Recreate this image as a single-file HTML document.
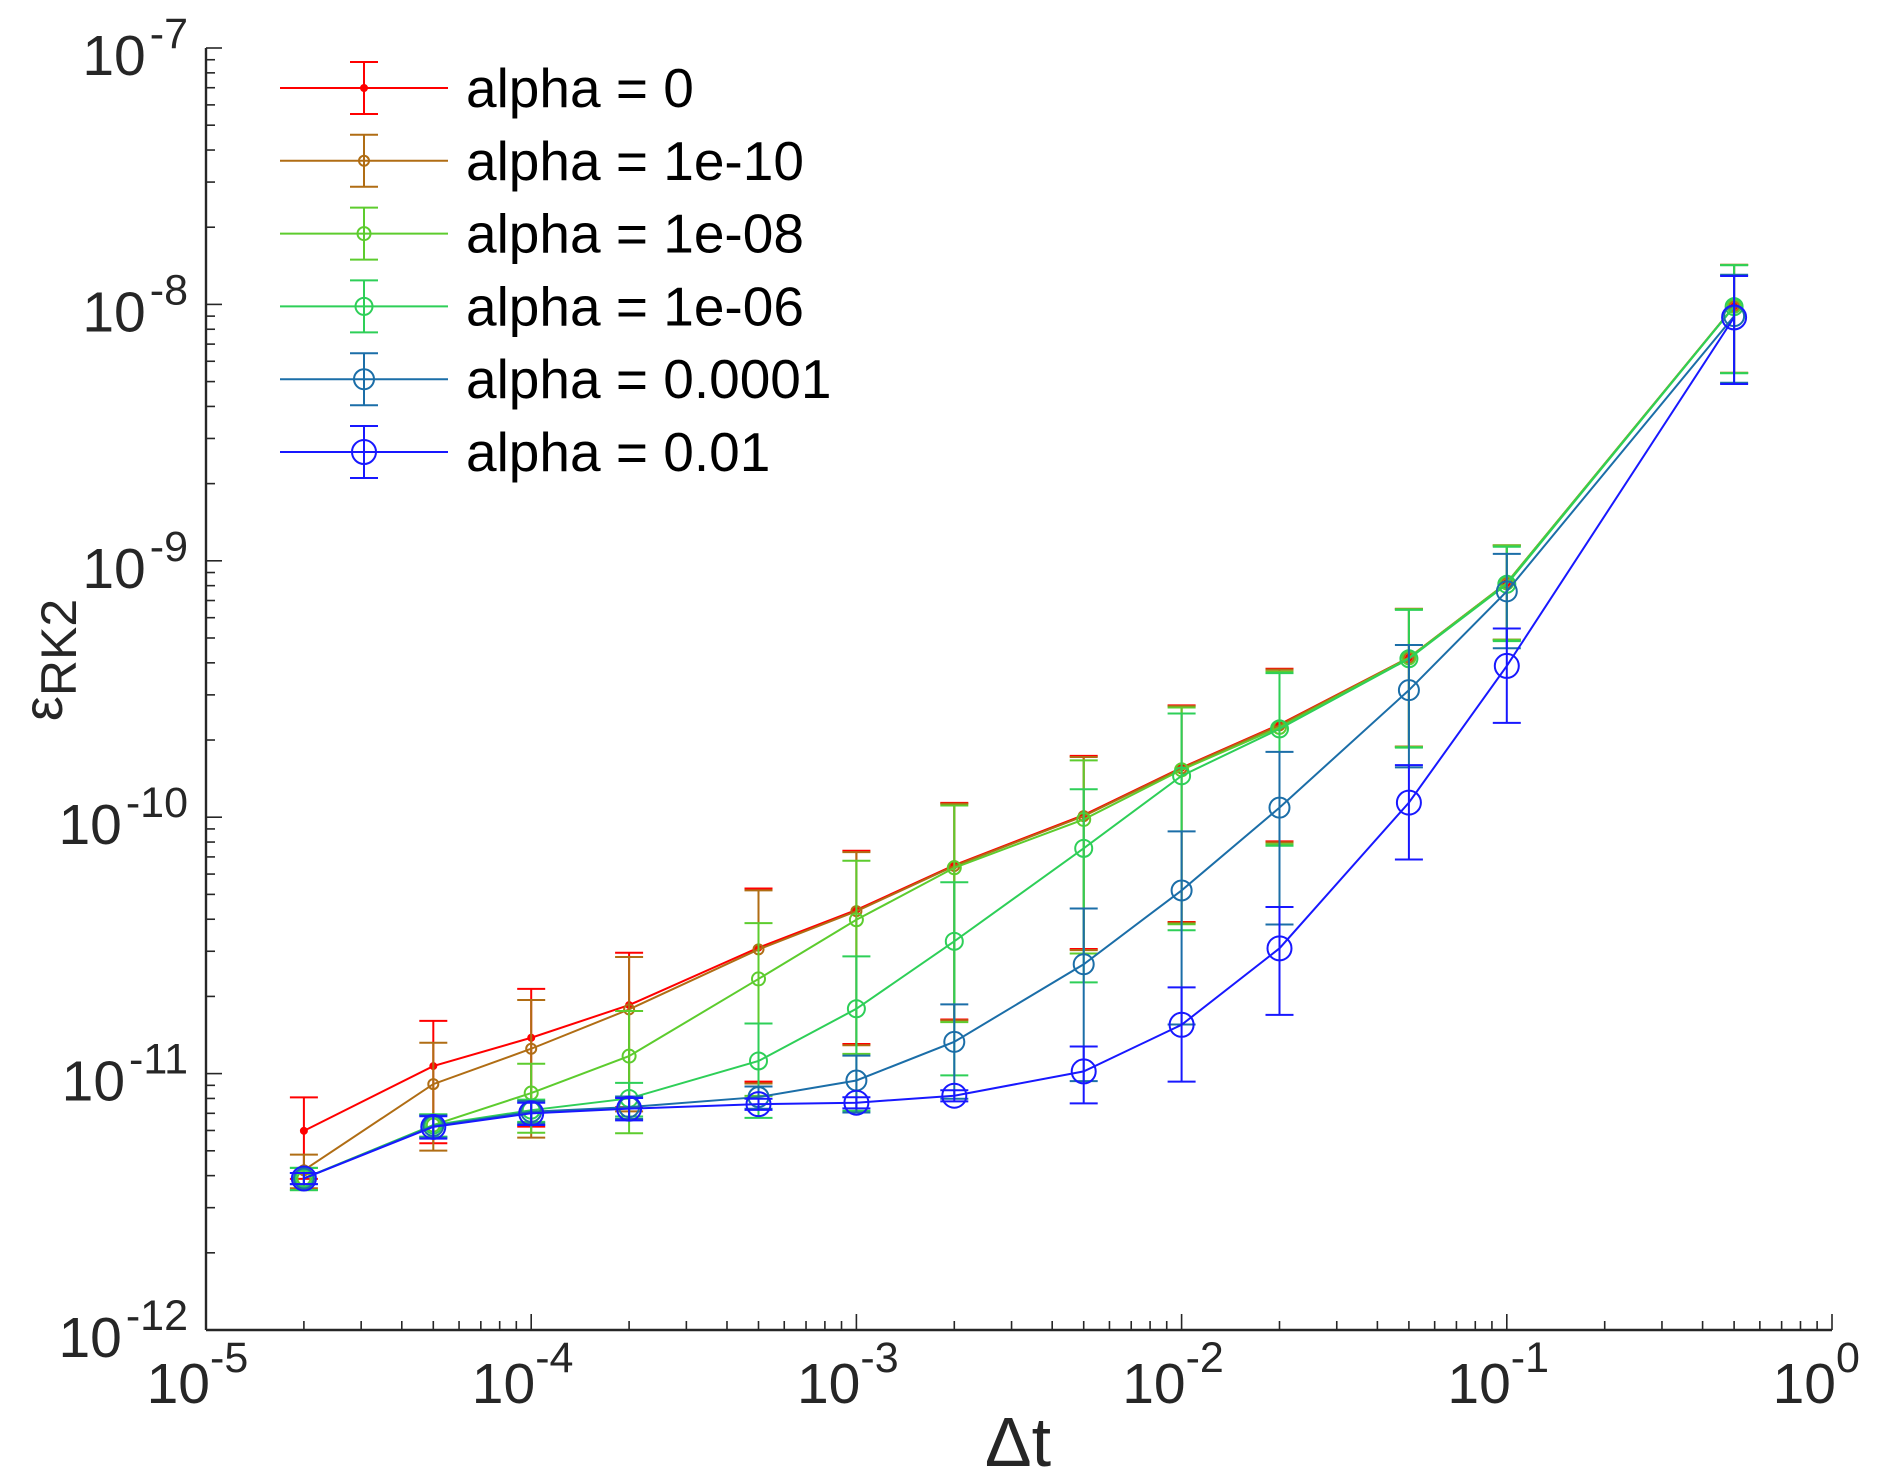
<!DOCTYPE html>
<html><head><meta charset="utf-8">
<style>
html,body{margin:0;padding:0;background:#fff;}
svg{display:block;font-family:"Liberation Sans",Arial,sans-serif;}
</style></head>
<body>
<svg id="chart" width="1892" height="1477" viewBox="0 0 1892 1477">
<rect width="1892" height="1477" fill="#fff"/>
<g id="grid-ticks"></g>
<g id="series"></g>
<g id="axes"></g>
<g id="legend"></g>
</svg>
<script>
const xVals = [2e-5,5e-5,1e-4,2e-4,5e-4,1e-3,2e-3,5e-3,1e-2,2e-2,5e-2,0.1,0.5];
const seriesNames = ["alpha = 0","alpha = 1e-10","alpha = 1e-08","alpha = 1e-06","alpha = 0.0001","alpha = 0.01"];
const yAlpha0   = [5.98e-12,1.07e-11,1.38e-11,1.85e-11,3.1e-11,4.35e-11,6.5e-11,1.02e-10,1.56e-10,2.3e-10,4.19e-10,8.2e-10,9.83e-9];
const yAlpha1e10= [4.2e-12,9.1e-12,1.25e-11,1.78e-11,3.05e-11,4.3e-11,6.45e-11,1.01e-10,1.55e-10,2.28e-10,4.19e-10,8.2e-10,9.83e-9];
const yAlpha1e8 = [3.9e-12,6.3e-12,8.4e-12,1.17e-11,2.34e-11,3.98e-11,6.35e-11,9.8e-11,1.53e-10,2.24e-10,4.18e-10,8.2e-10,9.83e-9];
const yAlpha1e6 = [3.9e-12,6.3e-12,7.2e-12,8.0e-12,1.12e-11,1.79e-11,3.28e-11,7.56e-11,1.45e-10,2.21e-10,4.15e-10,8.1e-10,9.8e-9];
const yAlpha1e4 = [3.9e-12,6.25e-12,7.1e-12,7.4e-12,8.1e-12,9.4e-12,1.33e-11,2.67e-11,5.18e-11,1.09e-10,3.13e-10,7.6e-10,9.0e-9];
const yAlpha1e2 = [3.9e-12,6.2e-12,7.0e-12,7.3e-12,7.6e-12,7.7e-12,8.2e-12,1.02e-11,1.55e-11,3.08e-11,1.14e-10,3.89e-10,8.9e-9];
const relErr0   = [0.35,0.5,0.55,0.6,0.7,0.7,0.75,0.7,0.75,0.65,0.55,0.4,0.45];
const relErr1   = [0.15,0.45,0.55,0.6,0.7,0.7,0.75,0.7,0.75,0.65,0.55,0.4,0.45];
const relErr2   = [0.1,0.1,0.3,0.5,0.65,0.7,0.75,0.7,0.75,0.65,0.55,0.4,0.45];
const relErr3   = [0.1,0.1,0.1,0.15,0.4,0.6,0.7,0.7,0.75,0.65,0.55,0.4,0.45];
const relErr4   = [0.05,0.1,0.1,0.1,0.1,0.25,0.4,0.65,0.7,0.65,0.5,0.4,0.45];
const relErr5   = [0.05,0.1,0.1,0.1,0.05,0.05,0.05,0.25,0.4,0.45,0.4,0.4,0.45];
const xTickLabels = ["-5","-4","-3","-2","-1","0"];
const yTickLabels = ["-12","-11","-10","-9","-8","-7"];

const NS="http://www.w3.org/2000/svg";
const X0=206,X1=1832,Y0=1330,Y1=48;
const xMin=-5,xMax=0,yMin=-12,yMax=-7;
function xs(v){return X0+(Math.log10(v)-xMin)/(xMax-xMin)*(X1-X0);}
function ys(v){return Y0-(Math.log10(v)-yMin)/(yMax-yMin)*(Y0-Y1);}
function mk(tag,attrs,parent){const e=document.createElementNS(NS,tag);for(const k in attrs)e.setAttribute(k,attrs[k]);parent.appendChild(e);return e;}

const ticks=document.getElementById('grid-ticks');
const axes=document.getElementById('axes');
let ax=mk('line',{x1:X0,y1:Y0,x2:X1,y2:Y0,stroke:'#262626','stroke-width':2.4},axes);


let ay=mk('line',{x1:X0,y1:Y0,x2:X0,y2:Y1,stroke:'#262626','stroke-width':2.4},axes);


for(let d=xMin;d<=xMax;d++){
  for(let m=1;m<=9;m++){
    if(d===xMax&&m>1)break;
    const x=xs(m*Math.pow(10,d));
    const len=m===1?16:9;
    const t=mk('line',{x1:x,y1:Y0,x2:x,y2:Y0-len,stroke:'#262626','stroke-width':1.6},ticks);
    
    
  }
}
xTickLabels.forEach((lab,i)=>{
  const x=xs(Math.pow(10,xMin+i));
  const t=mk('text',{x:x+4,y:1403,'text-anchor':'end','font-size':57,fill:'#262626'},axes);
  t.textContent='10';
  
  
  const e=mk('text',{x:x+4,y:1372,'text-anchor':'start','font-size':43,fill:'#262626'},axes);
  e.textContent=lab;
  
  
});
for(let d=yMin;d<=yMax;d++){
  for(let m=1;m<=9;m++){
    if(d===yMax&&m>1)break;
    const y=ys(m*Math.pow(10,d));
    const len=m===1?16:9;
    const t=mk('line',{x1:X0,y1:y,x2:X0+len,y2:y,stroke:'#262626','stroke-width':1.6},ticks);
    
    
  }
}
yTickLabels.forEach((lab,i)=>{
  const y=ys(Math.pow(10,yMin+i));
  const e=mk('text',{x:188,y:y,'text-anchor':'end','font-size':43,fill:'#262626'},axes);
  e.textContent=lab;
  
  
  let w=lab.length*22;
  try{w=e.getComputedTextLength();}catch(err){}
  const t=mk('text',{x:188-w-4,y:y+27,'text-anchor':'end','font-size':57,fill:'#262626'},axes);
  t.textContent='10';
  
  
});
let xt=mk('text',{x:1018,y:1466,'text-anchor':'middle','font-size':70,fill:'#262626'},axes);
xt.textContent='Δt';


let yt=mk('text',{transform:'translate(62,660) rotate(-90)','text-anchor':'middle','font-size':56,fill:'#262626'},axes);


const ts1=mk('tspan',{},yt);ts1.textContent='ε';
const ts2=mk('tspan',{dy:14,'font-size':50},yt);ts2.textContent='RK2';

const allY=[yAlpha0,yAlpha1e10,yAlpha1e8,yAlpha1e6,yAlpha1e4,yAlpha1e2];
const allE=[relErr0,relErr1,relErr2,relErr3,relErr4,relErr5];
const colors=['#ff0000','#b06d14','#5dcc2e','#2ecf58','#1b6ea8','#1818ff'];
const radii=[3,5,6.5,8.5,10,12];
const capW=[14,14,14,14,14,14];
const sg=document.getElementById('series');
allY.forEach((ys_,si)=>{
  const g=mk('g',{},sg);
  
  
  const c=colors[si];
  ys_.forEach((v,i)=>{
    const x=xs(xVals[i]);
    const e=v*allE[si][i];
    const top=ys(v+e), bot=ys(Math.max(v-e,v*0.05));
    const eb=mk('path',{d:`M${x},${top}L${x},${bot}M${x-capW[si]},${top}L${x+capW[si]},${top}M${x-capW[si]},${bot}L${x+capW[si]},${bot}`,stroke:c,'stroke-width':2,fill:'none'},g);
    
    
  });
  const pts=ys_.map((v,i)=>xs(xVals[i])+','+ys(v)).join(' ');
  const pl=mk('polyline',{points:pts,stroke:c,'stroke-width':2,fill:'none'},g);
  
  
  ys_.forEach((v,i)=>{
    const m=mk('circle',{cx:xs(xVals[i]),cy:ys(v),r:radii[si],stroke:c,'stroke-width':2,fill:si===0?c:'none'},g);
    
    
  });
});

const lg=document.getElementById('legend');
seriesNames.forEach((n,i)=>{
  const y=88+i*72.8;
  const c=colors[i];
  const g=mk('g',{},lg);
  
  
  const l=mk('line',{x1:280,y1:y,x2:448,y2:y,stroke:c,'stroke-width':2},g);
  
  
  const eb=mk('path',{d:`M364,${y-26}L364,${y+26}M350,${y-26}L378,${y-26}M350,${y+26}L378,${y+26}`,stroke:c,'stroke-width':2,fill:'none'},g);
  
  
  const m=mk('circle',{cx:364,cy:y,r:radii[i],stroke:c,'stroke-width':2,fill:i===0?c:'none'},g);
  
  
  const t=mk('text',{x:466,y:y+19,'font-size':55,fill:'#000'},g);
  t.textContent=n;
  
  
});
</script>
</body></html>
